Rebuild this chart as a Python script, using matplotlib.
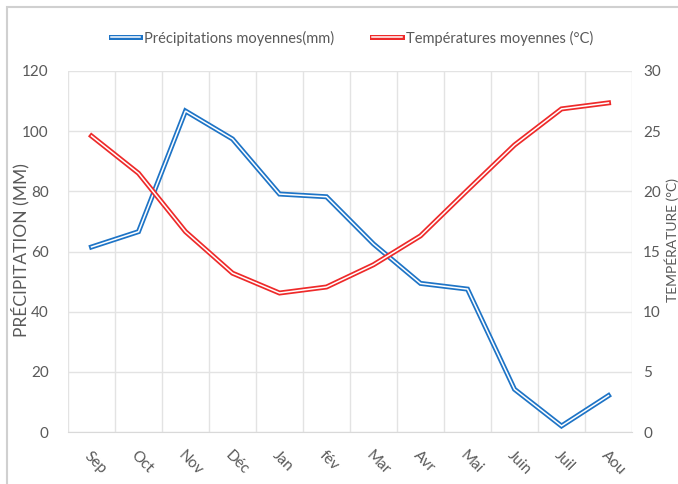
import numpy as np
import matplotlib
matplotlib.use("Agg")
import matplotlib.pyplot as plt
from matplotlib.lines import Line2D
from matplotlib.legend_handler import HandlerTuple
from matplotlib.patches import Rectangle

plt.rcParams['font.family'] = ['Lato', 'DejaVu Sans']

mois = ['Sep', 'Oct', 'Nov', 'Déc', 'Jan', 'fév', 'Mar', 'Avr', 'Mai', 'Juin', 'Juil', 'Aou']
precip = [61.5, 66.6, 106.7, 97.4, 79.1, 78.2, 62.5, 49.4, 47.5, 14.2, 2.0, 12.1]
temp = [24.6, 21.5, 16.65, 13.2, 11.55, 12.05, 13.9, 16.3, 20.1, 23.85, 26.85, 27.35]

bleu = '#1E74C6'
rouge = '#EE2A2A'
gris = '#595959'

fig = plt.figure(figsize=(6.78, 4.84), dpi=100)
ax = fig.add_axes([68/678, 1-432/484, 564/678, 361/484])
ax2 = ax.twinx()

x = np.arange(len(mois))

def double(a, y, c):
    a.plot(x, y, color=c, lw=3.6, solid_joinstyle='miter', zorder=3)
    a.plot(x, y, color='white', lw=1.1, solid_joinstyle='miter', zorder=4)

double(ax, precip, bleu)
double(ax2, temp, rouge)

ax.set_xlim(-0.5, 11.5)
ax.set_ylim(0, 120)
ax.set_yticks(range(0, 121, 20))
ax2.set_ylim(0, 30)
ax2.set_yticks(range(0, 31, 5))
ax.set_xticks(x)
ax.set_xticklabels(mois, rotation=-45, ha='left', rotation_mode='anchor')
ax.set_xticks(np.arange(-0.5, 12, 1), minor=True)
ax.grid(True, which='minor', axis='x', color='#E3E3E3', lw=1)
ax.grid(True, which='major', axis='y', color='#E3E3E3', lw=1)
ax.set_axisbelow(True)

for a in (ax, ax2):
    for s in a.spines.values():
        s.set_visible(False)
    a.tick_params(length=0, labelsize=11, labelcolor=gris)
    a.tick_params(which='minor', length=0)
ax.spines['bottom'].set_visible(True)
ax.spines['bottom'].set_color('#D9D9D9')
ax.tick_params(axis='x', pad=12)
ax.tick_params(axis='y', pad=14)
ax2.tick_params(axis='y', pad=8)

fig.text(20/678, 1-250/484, 'PRÉCIPITATION (MM)', rotation=90, ha='center', va='center',
         fontsize=12.5, color=gris)
fig.text(672/678, 1-240/484, 'TEMPÉRATURE (°C)', rotation=90, ha='center', va='center',
         fontsize=10, color=gris)

def poignee(c):
    return (Line2D([], [], color=c, lw=3.6), Line2D([], [], color='white', lw=1.1))

fig.legend([poignee(bleu), poignee(rouge)],
           ['Précipitations moyennes(mm)', 'Températures moyennes (°C)'],
           handler_map={tuple: HandlerTuple(ndivide=1)},
           loc='center', bbox_to_anchor=(352/678, 1-38/484), ncol=2, frameon=False,
           fontsize=10.5, labelcolor=gris, handlelength=2.0, handletextpad=0.3,
           columnspacing=2.6)

fig.add_artist(Rectangle((7/678, -0.1), 1.2, 1-7/484+0.1, transform=fig.transFigure,
                         fill=False, edgecolor='#D0D0D0', lw=1.5))

fig.savefig('out.png', dpi=100)
